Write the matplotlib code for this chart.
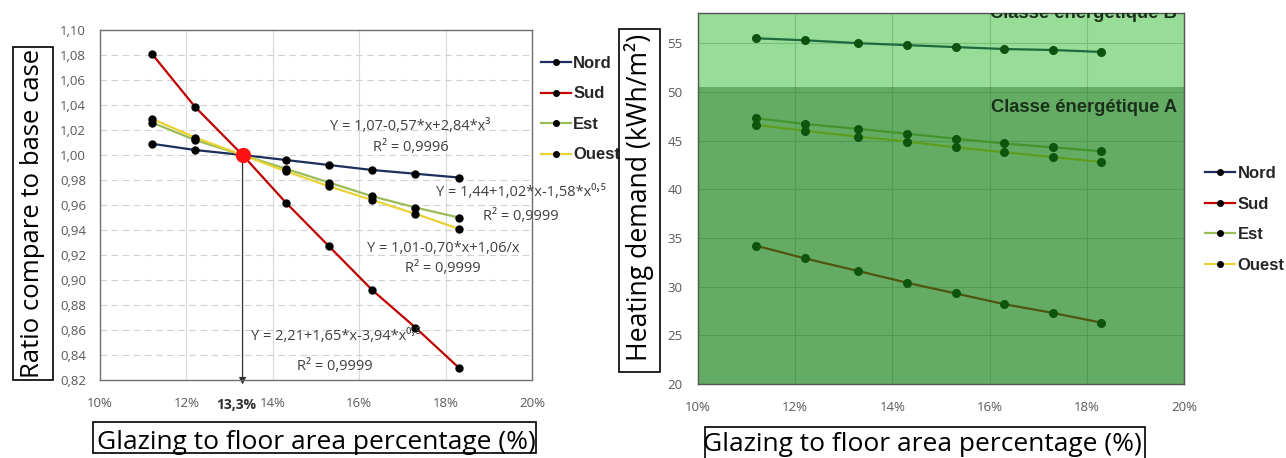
import numpy as np
import matplotlib.pyplot as plt
from matplotlib.lines import Line2D
from matplotlib.patches import Rectangle

# glazing to floor area ratio (%)
glazing = [11.2, 12.2, 13.3, 14.3, 15.3, 16.3, 17.3, 18.3]
series = ['Nord', 'Sud', 'Est', 'Ouest']

# ratio compared to base case (left chart)
ratio_nord = [1.009, 1.004, 1.000, 0.996, 0.992, 0.988, 0.985, 0.982]
ratio_sud = [1.081, 1.0385, 1.000, 0.962, 0.927, 0.892, 0.862, 0.830]
ratio_est = [1.026, 1.012, 1.000, 0.989, 0.978, 0.967, 0.958, 0.950]
ratio_ouest = [1.029, 1.014, 1.000, 0.987, 0.975, 0.964, 0.953, 0.941]

# heating demand kWh/m2 (right chart)
heat_nord = [55.5, 55.3, 55.0, 54.8, 54.6, 54.4, 54.3, 54.1]
heat_sud = [34.2, 32.9, 31.6, 30.4, 29.3, 28.2, 27.3, 26.3]
heat_est = [47.3, 46.7, 46.2, 45.7, 45.2, 44.7, 44.3, 43.9]
heat_ouest = [46.6, 46.0, 45.4, 44.9, 44.3, 43.8, 43.3, 42.8]

base_x = 13.3
class_limit = 50.5

colors = ['#1f2d5c', '#c00000', '#9bbb59', '#e8d234']
tick_col = '#595959'
eq_col = '#404040'

plt.rcParams['font.family'] = ['Open Sans', 'DejaVu Sans']

W, H = 1286, 458
fig = plt.figure(figsize=(12.86, 4.58), dpi=100)

# ---------- left chart ----------
ax1 = fig.add_axes([100/W, 78/H, 432/W, 350/H])
left_data = [ratio_nord, ratio_sud, ratio_est, ratio_ouest]
handles = []
for vals, c, name in zip(left_data, colors, series):
    ax1.plot(glazing, vals, color=c, lw=1.6, zorder=3)
    ax1.plot(glazing, vals, 'o', color='black', ms=5, zorder=4)
    handles.append(Line2D([], [], color=c, lw=1.6, marker='o', mfc='black', mec='black', ms=4))
ax1.plot([base_x], [1.0], 'o', color='#ff1010', ms=10, zorder=5)
ax1.annotate('', xy=(base_x, 0.8142), xytext=(base_x, 1.0),
             arrowprops=dict(arrowstyle='-|>', color='#303030', lw=0.9, mutation_scale=10),
             annotation_clip=False, zorder=2)
ax1.set_xlim(10, 20)
ax1.set_ylim(0.82, 1.10)
ax1.set_xticks(np.arange(10, 21, 2))
ax1.set_xticklabels(['%d%%' % v for v in range(10, 21, 2)])
yt = np.arange(0.82, 1.1001, 0.02)
ax1.set_yticks(yt)
ax1.set_yticklabels([('%.2f' % v).replace('.', ',') for v in yt])
ax1.tick_params(length=0, labelsize=9.5, colors=tick_col, pad=10)
ax1.tick_params(axis='x', pad=12)
ax1.grid(axis='y', color='#d0d0d0', ls=(0, (6, 4)), lw=0.8)
ax1.grid(axis='x', color='#d9d9d9', lw=0.8)
for s in ax1.spines.values():
    s.set_color('#707070')
    s.set_linewidth(1.0)
ax1.text(13.15, -0.072, '13,3%', transform=ax1.get_xaxis_transform(), ha='center', va='center',
         fontsize=10, fontweight='bold', color='#303030')

eqs = [
    (17.18, 1.0230, 'Y = 1,07-0,57*x+2,84*x³'),
    (17.2, 1.0060, 'R² = 0,9996'),
    (19.75, 0.9696, 'Y = 1,44+1,02*x-1,58*x⁰˒⁵'),
    (19.75, 0.9504, 'R² = 0,9999'),
    (17.94, 0.9256, 'Y = 1,01-0,70*x+1,06/x'),
    (17.94, 0.9088, 'R² = 0,9999'),
    (15.45, 0.8544, 'Y = 2,21+1,65*x-3,94*x⁰˒⁵'),
    (15.44, 0.8304, 'R² = 0,9999'),
]
for x, y, t in eqs:
    ax1.text(x, y, t, ha='center', va='center', fontsize=10.5, color=eq_col, zorder=6,
             family=['Open Sans', 'DejaVu Sans'])

leg1 = ax1.legend(handles, series, loc='upper left', bbox_to_anchor=(1.005, 0.945), frameon=False,
                  handlelength=1.8, handletextpad=0.15, labelspacing=0.93, borderaxespad=0,
                  prop=dict(family='Liberation Sans', weight='bold', size=12))
for t in leg1.get_texts():
    t.set_color('#262626')

# ---------- right chart ----------
ax2 = fig.add_axes([698/W, 74/H, 486/W, 371/H])
right_data = [heat_nord, heat_sud, heat_est, heat_ouest]
handles2 = []
for vals, c, name in zip(right_data, colors, series):
    ax2.plot(glazing, vals, color=c, lw=1.6, zorder=3)
    ax2.plot(glazing, vals, 'o', color='black', ms=5.5, zorder=4)
    handles2.append(Line2D([], [], color=c, lw=1.6, marker='o', mfc='black', mec='black', ms=4))
ax2.set_xlim(10, 20)
ax2.set_ylim(20, 58.1)
ax2.axhspan(class_limit, 58.1, color=(30/255, 180/255, 30/255), alpha=0.46, lw=0, zorder=5)
ax2.axhspan(20, class_limit, color=(20/255, 130/255, 20/255), alpha=0.66, lw=0, zorder=5)
ax2.set_xticks(np.arange(10, 21, 2))
ax2.set_xticklabels(['%d%%' % v for v in range(10, 21, 2)])
ax2.set_yticks(np.arange(20, 56, 5))
ax2.tick_params(length=0, labelsize=9.5, colors=tick_col, pad=11)
ax2.tick_params(axis='x', pad=12)
ax2.grid(color='#c8c8c8', lw=0.8)
ax2.set_axisbelow(True)
for s in ax2.spines.values():
    s.set_color('#555555')
    s.set_linewidth(1.0)
    s.set_zorder(6)
ax2.text(17.94, 57.6, 'Classe énergétique B', ha='center', va='baseline', fontsize=13.2,
         fontweight='bold', color='#1a301a', family='Liberation Sans', clip_on=True, zorder=7)
ax2.text(17.94, 48.4, 'Classe énergétique A', ha='center', va='center', fontsize=13.2,
         fontweight='bold', color='#1a301a', family='Liberation Sans', zorder=7)
leg2 = ax2.legend(handles2, series, loc='upper left', bbox_to_anchor=(1.03, 0.605), frameon=False,
                  handlelength=1.8, handletextpad=0.15, labelspacing=0.93, borderaxespad=0,
                  prop=dict(family='Liberation Sans', weight='bold', size=12))
for t in leg2.get_texts():
    t.set_color('#262626')

# ---------- boxed axis labels ----------
def px_box(x0, y0, x1, y1):
    fig.patches.append(Rectangle((x0/W, 1 - y1/H), (x1 - x0)/W, (y1 - y0)/H, fill=False,
                                 ec='black', lw=1.2, transform=fig.transFigure, zorder=10))

px_box(13, 47, 53, 380)
fig.text(33/W, 1 - 213/H, 'Ratio compare to base case', rotation=90, ha='center', va='center',
         fontsize=18.5)
px_box(93, 422, 536, 453)
fig.text(316/W, 1 - 449/H, 'Glazing to floor area percentage (%)', ha='center', va='baseline',
         fontsize=19)
px_box(705, 427, 1145, 470)
fig.text(922/W, 1 - 451/H, 'Glazing to floor area percentage (%)', ha='center', va='baseline',
         fontsize=19)
px_box(619, 29, 660, 372)
fig.text(639/W, 1 - 197/H, 'Heating demand (kWh/m²)', rotation=90, ha='center', va='center',
         fontsize=19.2)

fig.savefig('out.png', dpi=100)
